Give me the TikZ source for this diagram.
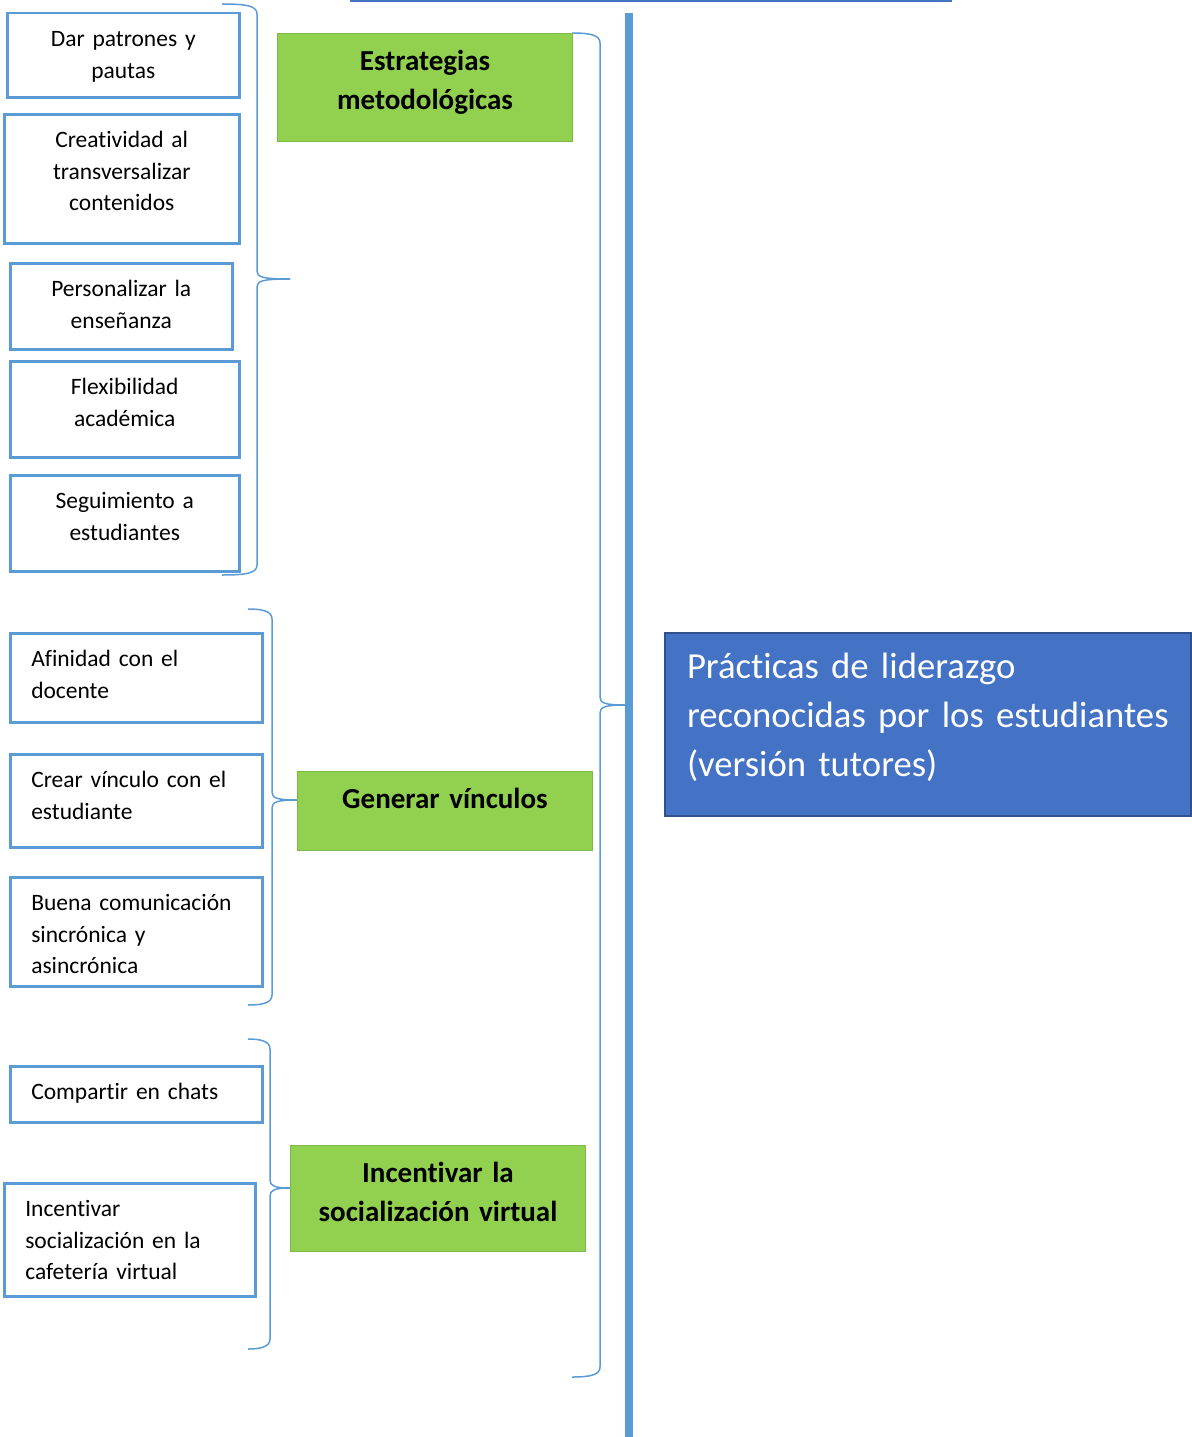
\documentclass[tikz,border=0pt]{standalone}
\usepackage{fontspec}
\setmainfont{Carlito}[Ligatures=NoCommon]
\definecolor{leafblue}{HTML}{5B9BD5}
\definecolor{mainblue}{HTML}{4472C4}
\definecolor{mainedge}{HTML}{2F528F}
\definecolor{catgreen}{HTML}{92D050}
\definecolor{catedge}{HTML}{7CB84A}

% curly brace: end x, top y, spine x, tip y, tip x, bottom y
\newcommand\mybrace[6]{%
  \draw[brace] (#1,#2) .. controls ({#3-10},#2) and (#3,{#2+2}) .. (#3,{#2+10})
    -- (#3,{#4-8}) .. controls (#3,{#4-2}) and ({#3+5},#4) .. (#5,#4);
  \draw[brace] (#5,#4) .. controls ({#3+5},#4) and (#3,{#4+2}) .. (#3,{#4+8})
    -- (#3,{#6-10}) .. controls (#3,{#6-2}) and ({#3-10},#6) .. (#1,#6);}

\begin{document}
\begin{tikzpicture}[x=1pt,y=-1pt,
  brace/.style={draw=leafblue, line width=1.5pt},
  % width, height; text hangs from the top edge
  leaf/.style 2 args={draw=leafblue, line width=2.5pt, fill=white, anchor=north west,
    inner ysep=0pt, minimum width=#1, minimum height=#2,
    text height=33.5pt, text depth={#2-33.5pt},
    font=\fontsize{23.5}{31.5}\selectfont},
  leafc/.style 2 args={leaf={#1}{#2}, inner xsep=10pt, text width={#1-20pt}, align=center},
  leafl/.style 2 args={leaf={#1}{#2}, inner xsep=21pt, text width={#1-42pt}, align=left},
  cat/.style 2 args={draw=catedge, line width=1pt, fill=catgreen, anchor=north west,
    inner xsep=10pt, inner ysep=0pt, minimum width=#1, minimum height=#2,
    text width={#1-20pt}, text height=37pt, text depth={#2-37pt}, align=center,
    font=\fontsize{29}{39}\selectfont\bfseries},
  root/.style={draw=mainedge, line width=2pt, fill=mainblue, text=white,
    anchor=north west, inner xsep=22pt, inner ysep=0pt,
    minimum width=526pt, minimum height=183pt, text width=482pt,
    text height=45.5pt, text depth=137.5pt, align=left,
    font=\fontsize{36.7}{49}\selectfont}]
\useasboundingbox (0,0) rectangle (1191,1437);

% top rule and main axis
\coordinate (ruleL) at (350,0.8);
\coordinate (ruleR) at (952,0.8);
\draw[mainblue, line width=2pt] (ruleL) -- (ruleR);
\coordinate (axisT) at (629,13);
\coordinate (axisB) at (629,1437);
\draw[leafblue, line width=7.5pt] (axisT) -- (axisB);

% braces
\mybrace{222}{4}{257}{279}{290}{575}
\mybrace{248}{609}{272}{800}{297}{1005}
\mybrace{248}{1039}{270}{1188}{290}{1349}
\mybrace{572}{33}{600}{705}{625}{1377}

% methodological strategies
\node[leafc={232pt}{84pt}] (d1) at (6,12) {Dar patrones y\\pautas};
\node[leafc={235pt}{129pt}] (d2) at (3,113) {Creatividad al\\transversalizar\\contenidos};
\node[leafc={222pt}{86pt}] (d3) at (9,262) {Personalizar la\\enseñanza};
\node[leafc={229pt}{96pt}] (d4) at (9,360) {Flexibilidad\\académica};
\node[leafc={229pt}{96pt}] (d5) at (9,474) {Seguimiento a\\estudiantes};

% bonds
\node[leafl={252pt}{89pt}] (v1) at (9,632) {Afinidad con el\\docente};
\node[leafl={252pt}{93pt}] (v2) at (9,753) {Crear vínculo con el\\estudiante};
\node[leafl={252pt}{109pt}] (v3) at (9,876) {Buena comunicación\\sincrónica y\\asincrónica};

% virtual socialization
\node[leafl={252pt}{56pt}] (s1) at (9,1065) {Compartir en chats};
\node[leafl={251pt}{113pt}] (s2) at (3,1182) {Incentivar\\socialización en la\\cafetería virtual};

% categories
\node[cat={295pt}{108pt}] (g1) at (277,33) {Estrategias\\metodológicas};
\node[cat={295pt}{79pt}] (g2) at (297,771) {Generar vínculos};
\node[cat={295pt}{106pt}] (g3) at (290,1145) {Incentivar la\\socialización virtual};

% central concept
\node[root] (main) at (664,632)
  {\mbox{Prácticas de liderazgo}\\\mbox{reconocidas por los estudiantes}\\\mbox{(versión tutores)}};
\end{tikzpicture}
\end{document}
